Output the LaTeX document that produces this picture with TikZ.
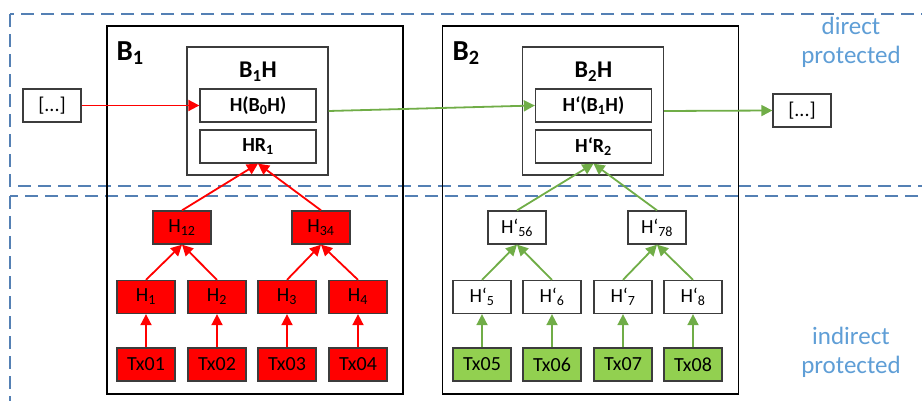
\documentclass[tikz,border=0pt]{standalone}
\usepackage{fontspec}
\setmainfont{Carlito}
\usetikzlibrary{arrows.meta}

\definecolor{zoneblue}{RGB}{84,128,180}
\definecolor{textblue}{RGB}{95,158,214}
\definecolor{leafgreen}{RGB}{146,208,80}
\definecolor{linegreen}{RGB}{112,173,71}
\definecolor{boxgray}{RGB}{60,60,60}

\tikzset{
  zone/.style={draw=zoneblue, line width=2pt, dash pattern=on 13pt off 7pt},
  block/.style={draw=black, line width=1.3pt, minimum width=296pt, minimum height=368pt, inner sep=0pt},
  headbox/.style={draw=boxgray, line width=1.3pt, minimum width=141pt, minimum height=128pt, inner sep=0pt},
  field/.style={draw=boxgray, line width=1.3pt, fill=white, minimum width=116pt, minimum height=33pt, inner sep=0pt, font=\fontsize{20}{24}\selectfont\bfseries},
  hashbox/.style={draw=boxgray, line width=1.3pt, minimum width=58pt, minimum height=33pt, inner sep=0pt, font=\fontsize{20}{24}\selectfont},
  redhash/.style={hashbox, fill=red},
  whitehash/.style={hashbox, fill=white},
  greenhash/.style={hashbox, fill=leafgreen},
  redarrow/.style={draw=red, line width=1.8pt, -{Triangle[length=11pt,width=11pt]}},
  greenarrow/.style={draw=linegreen, line width=1.8pt, -{Triangle[length=11pt,width=11pt]}},
  zonelabel/.style={text=textblue, align=center, font=\fontsize{25}{29}\selectfont}
}

\begin{document}
\begin{tikzpicture}[x=1pt, y=-1pt]
      \useasboundingbox (0,0) rectangle (922,401);

      % Protection zones
      \draw[zone] (10,14) rectangle (940,186);
      \draw[zone] (10,196) rectangle (940,420);
      \node (ZD) [zonelabel] at (851,42) {direct\\protected};
      \node (ZI) [zonelabel] at (851,352) {indirect\\protected};

      % Blocks
      \node (B1) [block] at (255,210) {};
      \node (B2) [block] at (590.5,210) {};
      \node [anchor=west, font=\fontsize{29}{33}\selectfont\bfseries] at (113,53) {B\textsubscript{1}};
      \node [anchor=west, font=\fontsize{29}{33}\selectfont\bfseries] at (449,53) {B\textsubscript{2}};

      % Block headers
      \node (B1H) [headbox] at (257.5,111) {};
      \node (B2H) [headbox] at (593,111) {};
      \node [font=\fontsize{24}{28}\selectfont\bfseries] at (258,72) {B\textsubscript{1}H};
      \node [font=\fontsize{24}{28}\selectfont\bfseries] at (593.5,72) {B\textsubscript{2}H};
      \node (HB0) [field] at (258,105.5) {H(B\textsubscript{0}H)};
      \node (HR1) [field] at (258,146.5) {HR\textsubscript{1}};
      \node (HB1) [field] at (593.5,105.5) {H‘(B\textsubscript{1}H)};
      \node (HR2) [field] at (593.5,146.5) {H‘R\textsubscript{2}};

      % Chain ends
      \node (PREV) [hashbox] at (52,105.5) {[...]};
      \node (NEXT) [hashbox] at (802,110.5) {[...]};
      \draw[redarrow] (PREV.east) -- (HB0.west);
      \draw[greenarrow] (B1H.east) -- (HB1.west);
      \draw[greenarrow] (B2H.east) -- (NEXT.west);

      % Merkle tree of B1
      \foreach \x/\n in {146/1, 217/2, 287/3, 358/4} {
          \node (H\n) [redhash] at (\x,297) {H\textsubscript{\n}};
          \node (Tx\n) [redhash] at (\x,364.5) {Tx0\n};
          \draw[redarrow] (Tx\n.north) -- (H\n.south);
        }
      \node (H12) [redhash] at (182,227.5) {H\textsubscript{12}};
      \node (H34) [redhash] at (321,227.5) {H\textsubscript{34}};
      \foreach \a/\p in {1/12, 2/12, 3/34, 4/34} {
          \draw[redarrow] (H\a.north) -- (H\p.south);
        }
      \foreach \p in {12, 34} {
          \draw[redarrow] (H\p.north) -- (HR1.south);
        }

      % Merkle tree of B2
      \foreach \x/\n in {482/5, 552/6, 623/7, 693/8} {
          \node (H\n) [whitehash] at (\x,297) {H‘\textsubscript{\n}};
          \node (Tx\n) [greenhash] at (\x,364.5) {Tx0\n};
          \draw[greenarrow] (Tx\n.north) -- (H\n.south);
        }
      \node (H56) [whitehash] at (517,227.5) {H‘\textsubscript{56}};
      \node (H78) [whitehash] at (657,227.5) {H‘\textsubscript{78}};
      \foreach \a/\p in {5/56, 6/56, 7/78, 8/78} {
          \draw[greenarrow] (H\a.north) -- (H\p.south);
        }
      \foreach \p in {56, 78} {
          \draw[greenarrow] (H\p.north) -- (HR2.south);
        }
    \end{tikzpicture}
\end{document}
